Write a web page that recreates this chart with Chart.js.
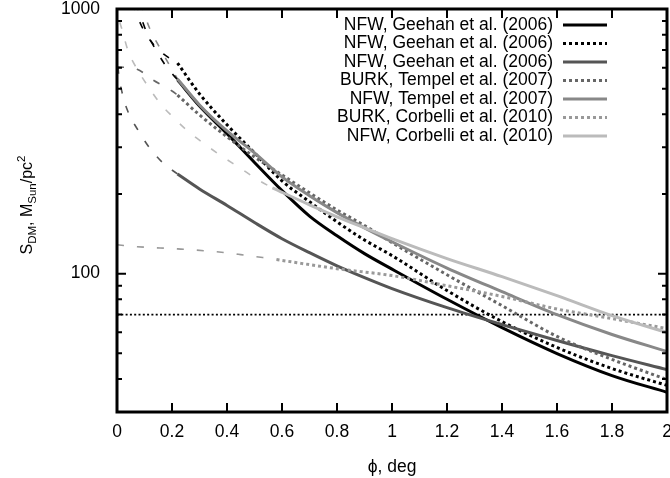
<!DOCTYPE html>
<html>
<head>
<meta charset="utf-8">
<script src="https://cdn.jsdelivr.net/npm/chart.js@4.4.1/dist/chart.umd.min.js"></script>
<style>
html, body { margin: 0; padding: 0; background: #fff; }
</style>
</head>
<body>
<canvas id="c" width="670" height="478"></canvas>
<script>
// values (phi in deg, S in M_sun/pc^2)
const phiMain = [0.22, 0.3, 0.4, 0.5, 0.6, 0.7, 0.8, 0.9, 1.0, 1.2, 1.4, 1.6, 1.8, 2.0];
const nfwGeehanA = [540, 430, 338, 263, 206, 165, 139, 119, 104, 80, 62.5, 49.9, 41.2, 35.6];
const nfwGeehanB = [625, 478, 365, 286, 224, 187, 157, 134, 117, 86.3, 65.9, 52.6, 43.8, 37.8];
const nfwGeehanC = [238, 209, 181, 156, 135.5, 120, 107, 96.6, 87.8, 74.4, 64.2, 55.9, 49, 43.4];
const burkTempel = [473, 398, 329, 276, 236, 202, 174, 152, 131, 99, 75.7, 57.9, 47.4, 39.8];
const nfwTempel = [544, 434, 346, 286, 232, 197, 170, 149, 132, 105, 85.5, 70, 58.9, 50.8];

const phiNfwCorbelli = [0.565, 0.7, 0.8, 0.9, 1.0, 1.2, 1.4, 1.6, 1.8, 2.0];
const nfwCorbelli = [211, 182, 164, 149, 135.6, 114, 97.4, 82.6, 69.4, 59.9];
const phiBurkCorbelli = [0.58, 0.8, 1.0, 1.2, 1.4, 1.6, 1.8, 2.0];
const burkCorbelli = [113, 104.4, 98.3, 90, 82, 73.5, 67.6, 62];

// dashed model continuation towards the centre
const phiExtA = [0.07, 0.105, 0.145, 0.18, 0.22];
const extA = [1050, 830, 690, 605, 540];
const phiExtB = [0.055, 0.09, 0.13, 0.17, 0.22];
const extB = [1050, 860, 740, 675, 625];
const phiExtC = [0, 0.004, 0.018, 0.04, 0.076, 0.116, 0.167, 0.22];
const extC = [720, 600, 486, 409, 349, 301, 262, 238];
const phiExtBurkT = [0, 0.073, 0.13, 0.2, 0.22];
const extBurkT = [605, 592, 540, 490, 473];
const phiExtNfwT = [0.085, 0.12, 0.16, 0.19, 0.22];
const extNfwT = [1050, 840, 700, 615, 544];
const phiExtNfwC = [0, 0.004, 0.022, 0.04, 0.076, 0.113, 0.156, 0.204, 0.258, 0.313, 0.385, 0.447, 0.513, 0.565];
const extNfwC = [1060, 965, 811, 696, 586, 510, 441, 390, 345, 312, 276, 251, 226, 211];
const phiExtBurkC = [0, 0.073, 0.22, 0.36, 0.45, 0.53, 0.58];
const extBurkC = [128.5, 126.4, 124, 121, 118, 115, 113];

const refLevel = 70;

const xTicks = [0, 0.2, 0.4, 0.6, 0.8, 1, 1.2, 1.4, 1.6, 1.8, 2];
const yMajor = [100, 1000];
const yMinor = [40, 50, 60, 70, 80, 90, 200, 300, 400, 500, 600, 700, 800, 900];

const legendNames = [
  'NFW, Geehan et al. (2006)',
  'NFW, Geehan et al. (2006)',
  'NFW, Geehan et al. (2006)',
  'BURK, Tempel et al. (2007)',
  'NFW, Tempel et al. (2007)',
  'BURK, Corbelli et al. (2010)',
  'NFW, Corbelli et al. (2010)'
];

const FONT = '"Liberation Sans", Arial, Helvetica, sans-serif';
const pts = (xs, ys) => xs.map((x, i) => ({ x: x, y: ys[i] }));
const DOT = [3, 3];
const EXT = [7, 13];

function mainSet(i, xs, ys, color, dash) {
  return {
    label: legendNames[i], data: pts(xs, ys), borderColor: color,
    borderWidth: 3, borderDash: dash || [], order: 20 - i
  };
}
function extSet(xs, ys, color) {
  return {
    label: '', ext: true, data: pts(xs, ys), borderColor: color,
    borderWidth: 1.6, borderDash: EXT, order: 40
  };
}

const datasets = [
  mainSet(0, phiMain, nfwGeehanA, '#000000'),
  mainSet(1, phiMain, nfwGeehanB, '#000000', DOT),
  mainSet(2, phiMain, nfwGeehanC, '#555555'),
  mainSet(3, phiMain, burkTempel, '#666666', DOT),
  mainSet(4, phiMain, nfwTempel, '#888888'),
  mainSet(5, phiBurkCorbelli, burkCorbelli, '#999999', DOT),
  mainSet(6, phiNfwCorbelli, nfwCorbelli, '#bbbbbb'),
  extSet(phiExtA, extA, '#000000'),
  extSet(phiExtB, extB, '#000000'),
  extSet(phiExtC, extC, '#555555'),
  extSet(phiExtBurkT, extBurkT, '#666666'),
  extSet(phiExtNfwT, extNfwT, '#888888'),
  extSet(phiExtBurkC, extBurkC, '#999999'),
  extSet(phiExtNfwC, extNfwC, '#bbbbbb'),
  { label: '', ext: true, data: [{ x: 0, y: refLevel }, { x: 2, y: refLevel }],
    borderColor: '#000', borderWidth: 1.8, borderDash: [2, 2.3], order: 50, cubicInterpolationMode: 'default' }
];

// frame, inward ticks, y title, legend
const decor = {
  id: 'decor',
  afterDatasetsDraw(chart) {
    const ctx = chart.ctx, a = chart.chartArea;
    const xs = chart.scales.x, ys = chart.scales.y;
    ctx.save();
    ctx.strokeStyle = '#000';
    ctx.lineWidth = 2;
    ctx.beginPath();
    xTicks.forEach(v => {
      const px = xs.getPixelForValue(v);
      ctx.moveTo(px, a.bottom); ctx.lineTo(px, a.bottom - 9);
      ctx.moveTo(px, a.top); ctx.lineTo(px, a.top + 9);
    });
    yMajor.forEach(v => {
      const py = ys.getPixelForValue(v);
      ctx.moveTo(a.left, py); ctx.lineTo(a.left + 9, py);
      ctx.moveTo(a.right, py); ctx.lineTo(a.right - 9, py);
    });
    yMinor.forEach(v => {
      const py = ys.getPixelForValue(v);
      ctx.moveTo(a.left, py); ctx.lineTo(a.left + 5, py);
      ctx.moveTo(a.right, py); ctx.lineTo(a.right - 5, py);
    });
    ctx.stroke();
    ctx.lineWidth = 3;
    ctx.strokeRect(a.left, a.top, a.right - a.left, a.bottom - a.top);

    // y axis title with sub/superscripts
    ctx.translate(32, 205);
    ctx.rotate(-Math.PI / 2);
    const big = '16px ' + FONT, small = '11.5px ' + FONT;
    const parts = [['S', big, 0], ['DM', small, 4], [', M', big, 0], ['Sun', small, 4], ['/pc', big, 0], ['2', small, -7]];
    let w = 0;
    parts.forEach(p => { ctx.font = p[1]; w += ctx.measureText(p[0]).width; });
    let x = -w / 2;
    ctx.fillStyle = '#000';
    ctx.textBaseline = 'alphabetic';
    parts.forEach(p => { ctx.font = p[1]; ctx.fillText(p[0], x, p[2]); x += ctx.measureText(p[0]).width; });
    ctx.restore();

    // legend
    ctx.save();
    ctx.font = '17.5px ' + FONT;
    ctx.textAlign = 'right';
    ctx.textBaseline = 'middle';
    ctx.fillStyle = '#000';
    chart.data.datasets.filter(d => !d.ext).forEach((d, i) => {
      const y = 25 + i * 18.5;
      ctx.fillText(d.label, 553, y);
      ctx.strokeStyle = d.borderColor;
      ctx.lineWidth = d.borderWidth;
      ctx.setLineDash(d.borderDash);
      ctx.beginPath();
      ctx.moveTo(563, y); ctx.lineTo(607, y);
      ctx.stroke();
    });
    ctx.restore();
  }
};

Chart.defaults.font.family = FONT;
Chart.defaults.color = '#000';

new Chart(document.getElementById('c'), {
  type: 'line',
  data: { datasets: datasets },
  options: {
    responsive: false,
    animation: false,
    layout: { padding: { top: 9, right: 3, left: 0, bottom: 0 } },
    elements: {
      point: { radius: 0 },
      line: { cubicInterpolationMode: 'monotone', borderCapStyle: 'butt' }
    },
    plugins: { legend: { display: false }, tooltip: { enabled: false } },
    scales: {
      x: {
        type: 'linear', min: 0, max: 2,
        afterBuildTicks: s => { s.ticks = xTicks.map(v => ({ value: v })); },
        afterFit: s => { s.height = 66; s.paddingLeft = 0; s.paddingRight = 0; },
        grid: { display: false, drawTicks: false },
        border: { display: false },
        ticks: { padding: 10, font: { size: 17.5 }, maxRotation: 0, autoSkip: false,
          callback: v => String(Math.round(v * 10) / 10) },
        title: { display: true, text: '\u03d5, deg', font: { size: 17.5 }, padding: { top: 0, bottom: 0 } }
      },
      y: {
        type: 'logarithmic', min: 30, max: 1000,
        afterBuildTicks: s => { s.ticks = yMajor.map(v => ({ value: v })); },
        afterFit: s => { s.width = 117; s.paddingTop = 0; s.paddingBottom = 0; },
        grid: { display: false, drawTicks: false },
        border: { display: false },
        ticks: { padding: 17, font: { size: 17.5 }, autoSkip: false, callback: v => String(v) }
      }
    }
  },
  plugins: [decor]
});
</script>
</body>
</html>
